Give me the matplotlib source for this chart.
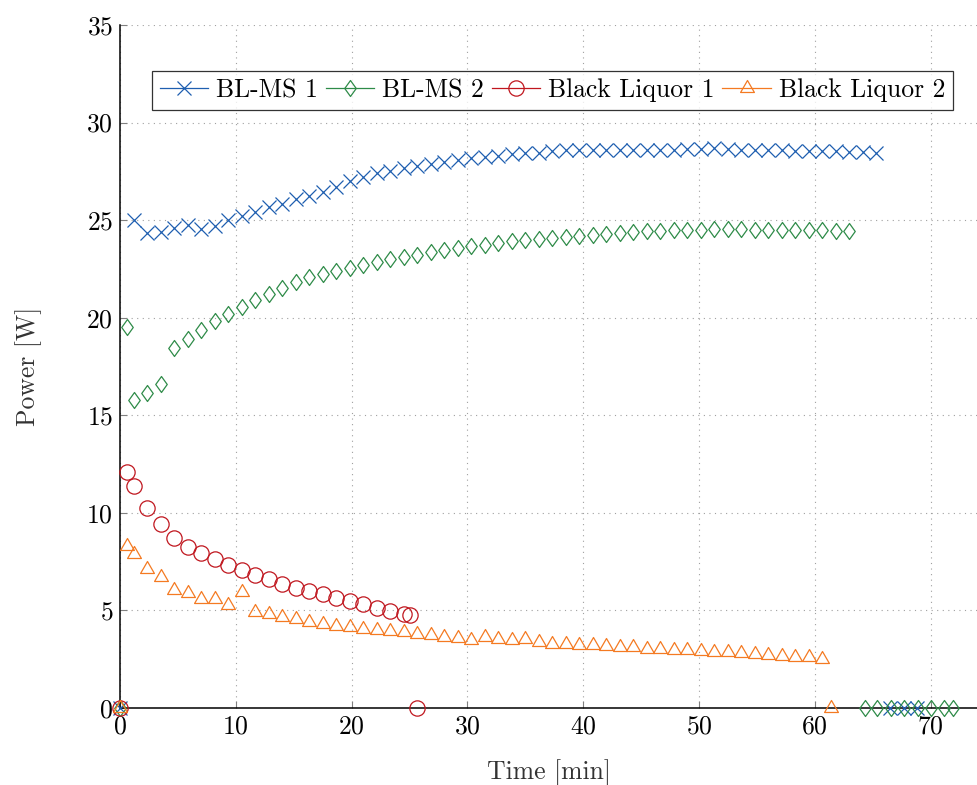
import matplotlib
matplotlib.use("Agg")
import matplotlib.pyplot as plt
from matplotlib.path import Path
from matplotlib.lines import Line2D

plt.rcParams['font.family'] = 'serif'
plt.rcParams['font.serif'] = ['cmr10']
plt.rcParams['mathtext.fontset'] = 'cm'
plt.rcParams['axes.formatter.use_mathtext'] = True

# ---------------- data ----------------
t_blms1 = [0, 1.17, 2.33, 3.5, 4.67, 5.83, 7.0, 8.17, 9.33, 10.5,
           11.67, 12.83, 14.0, 15.17, 16.33, 17.5, 18.67, 19.83, 21.0, 22.17,
           23.33, 24.5, 25.67, 26.83, 28.0, 29.17, 30.33, 31.5, 32.67, 33.83,
           35.0, 36.17, 37.33, 38.5, 39.67, 40.83, 42.0, 43.17, 44.33, 45.5,
           46.67, 47.83, 49.0, 50.17, 51.33, 52.5, 53.67, 54.83, 56.0, 57.17,
           58.33, 59.5, 60.67, 61.83, 63.0, 64.17, 65.33, 66.5, 67.67, 68.83]
p_blms1 = [0, 25.0, 24.35, 24.4, 24.6, 24.75, 24.55, 24.72, 25.02, 25.2,
           25.42, 25.65, 25.85, 26.07, 26.24, 26.46, 26.69, 27.03, 27.23, 27.41,
           27.54, 27.66, 27.78, 27.88, 27.97, 28.09, 28.17, 28.26, 28.31, 28.4,
           28.46, 28.46, 28.52, 28.57, 28.6, 28.57, 28.6, 28.6, 28.6, 28.6,
           28.62, 28.62, 28.64, 28.67, 28.69, 28.64, 28.6, 28.6, 28.57, 28.57,
           28.55, 28.52, 28.55, 28.52, 28.48, 28.48, 28.46, 0, 0, 0]

t_blms2 = [0, 0.58, 1.17, 2.33, 3.5, 4.67, 5.83, 7.0, 8.17, 9.33, 10.5,
           11.67, 12.83, 14.0, 15.17, 16.33, 17.5, 18.67, 19.83, 21.0, 22.17,
           23.33, 24.5, 25.67, 26.83, 28.0, 29.17, 30.33, 31.5, 32.67, 33.83,
           35.0, 36.17, 37.33, 38.5, 39.67, 40.83, 42.0, 43.17, 44.33, 45.5,
           46.67, 47.83, 49.0, 50.17, 51.33, 52.5, 53.67, 54.83, 56.0, 57.17,
           58.33, 59.5, 60.67, 61.83, 63.0,
           64.3, 65.4, 66.6, 67.7, 68.9, 70.0, 71.2, 71.9]
p_blms2 = [0, 19.5, 15.79, 16.16, 16.59, 18.47, 18.91, 19.38, 19.84, 20.2, 20.57,
           20.91, 21.22, 21.54, 21.82, 22.07, 22.25, 22.4, 22.55, 22.7, 22.85,
           23.0, 23.1, 23.2, 23.35, 23.45, 23.55, 23.65, 23.75, 23.85, 23.95,
           24.0, 24.05, 24.1, 24.15, 24.2, 24.25, 24.3, 24.35, 24.38, 24.42,
           24.45, 24.48, 24.5, 24.52, 24.53, 24.55, 24.53, 24.52, 24.5, 24.5,
           24.5, 24.48, 24.47, 24.45, 24.43,
           0, 0, 0, 0, 0, 0, 0, 0]

t_bl1 = [0, 0.58, 1.17, 2.33, 3.5, 4.67, 5.83, 7.0, 8.17, 9.33, 10.5,
         11.67, 12.83, 14.0, 15.17, 16.33, 17.5, 18.67, 19.83, 21.0, 22.17,
         23.33, 24.5, 25.06, 25.67]
p_bl1 = [0, 12.1, 11.4, 10.25, 9.42, 8.72, 8.25, 7.93, 7.64, 7.35, 7.09,
         6.82, 6.6, 6.36, 6.16, 5.98, 5.84, 5.65, 5.48, 5.31, 5.14,
         4.97, 4.82, 4.77, 0]

t_bl2 = [0, 0.58, 1.17, 2.33, 3.5, 4.67, 5.83, 7.0, 8.17, 9.33, 10.5,
         11.67, 12.83, 14.0, 15.17, 16.33, 17.5, 18.67, 19.83, 21.0, 22.17,
         23.33, 24.5, 25.67, 26.83, 28.0, 29.17, 30.33, 31.5, 32.67, 33.83,
         35.0, 36.17, 37.33, 38.5, 39.67, 40.83, 42.0, 43.17, 44.33, 45.5,
         46.67, 47.83, 49.0, 50.17, 51.33, 52.5, 53.67, 54.83, 56.0, 57.17,
         58.33, 59.5, 60.67, 61.4]
p_bl2 = [0, 8.3, 7.9, 7.12, 6.72, 6.07, 5.88, 5.6, 5.58, 5.26, 5.96,
         4.92, 4.8, 4.67, 4.54, 4.4, 4.29, 4.21, 4.14, 4.07, 4.01,
         3.96, 3.9, 3.79, 3.72, 3.64, 3.59, 3.5, 3.62, 3.55, 3.47,
         3.54, 3.37, 3.3, 3.3, 3.25, 3.21, 3.16, 3.14, 3.11, 3.04,
         3.02, 2.97, 2.96, 2.92, 2.89, 2.85, 2.8, 2.77, 2.73, 2.68,
         2.63, 2.6, 2.53, 0]

labels = ['BL-MS 1', 'BL-MS 2', 'Black Liquor 1', 'Black Liquor 2']
colors = ['#1f5fb0', '#2e8b48', '#c0161e', '#f47a22']
x_ticks = [0, 10, 20, 30, 40, 50, 60, 70]
y_ticks = [0, 5, 10, 15, 20, 25, 30, 35]

# ---------------- markers ----------------
diamond = Path([(0, 1), (0.72, 0), (0, -1), (-0.72, 0), (0, 1)],
               [Path.MOVETO, Path.LINETO, Path.LINETO, Path.LINETO, Path.CLOSEPOLY])
triangle = Path([(0, 1), (-0.866, -0.5), (0.866, -0.5), (0, 1)],
                [Path.MOVETO, Path.LINETO, Path.LINETO, Path.CLOSEPOLY])

styles = [dict(marker='x', ms=9.5, mew=0.9),
          dict(marker=diamond, ms=11.5, mew=0.9),
          dict(marker='o', ms=11, mew=0.9),
          dict(marker=triangle, ms=11.5, mew=0.9)]

series = [(t_blms1, p_blms1), (t_blms2, p_blms2), (t_bl1, p_bl1), (t_bl2, p_bl2)]

FS = 18.5

fig = plt.figure(figsize=(9.77, 7.85), dpi=100)
ax = fig.add_axes([120 / 977, 77 / 785, 858 / 977, 683 / 785])

handles = []
for (t, p), lab, c, st in zip(series, labels, colors, styles):
    ax.plot(t, p, linestyle='none', color=c, mfc='none', mec=c,
            clip_on=False, zorder=3, **st)
    handles.append(Line2D([], [], color=c, lw=0.9, mfc='none', mec=c, **st))

ax.set_xlim(0, 74.1)
ax.set_ylim(0, 35)
ax.set_xticks(x_ticks)
ax.set_yticks(y_ticks)
ax.tick_params(direction='in', length=5, width=0.8, color='#808080',
               labelsize=FS, pad=5)
ax.grid(True, linestyle=(0, (1, 4)), color='#a0a0a0', linewidth=0.8)
ax.set_axisbelow(True)
for s in ['top', 'right']:
    ax.spines[s].set_visible(False)
for s in ['left', 'bottom']:
    ax.spines[s].set_linewidth(1.1)
    ax.spines[s].set_color('black')

ax.set_xlabel('Time [min]', fontsize=FS, labelpad=15, color='#333333')
ax.set_ylabel('Power [W]', fontsize=FS, labelpad=32, color='#333333')

leg = ax.legend(handles, labels, ncol=4, loc='upper center',
                bbox_to_anchor=(0.504, 0.952), fontsize=FS,
                frameon=True, fancybox=False, edgecolor='black',
                handlelength=1.9, handletextpad=0.3, columnspacing=0.3,
                borderpad=0.3)
leg.get_frame().set_linewidth(0.9)

fig.savefig('out.png', dpi=100)
